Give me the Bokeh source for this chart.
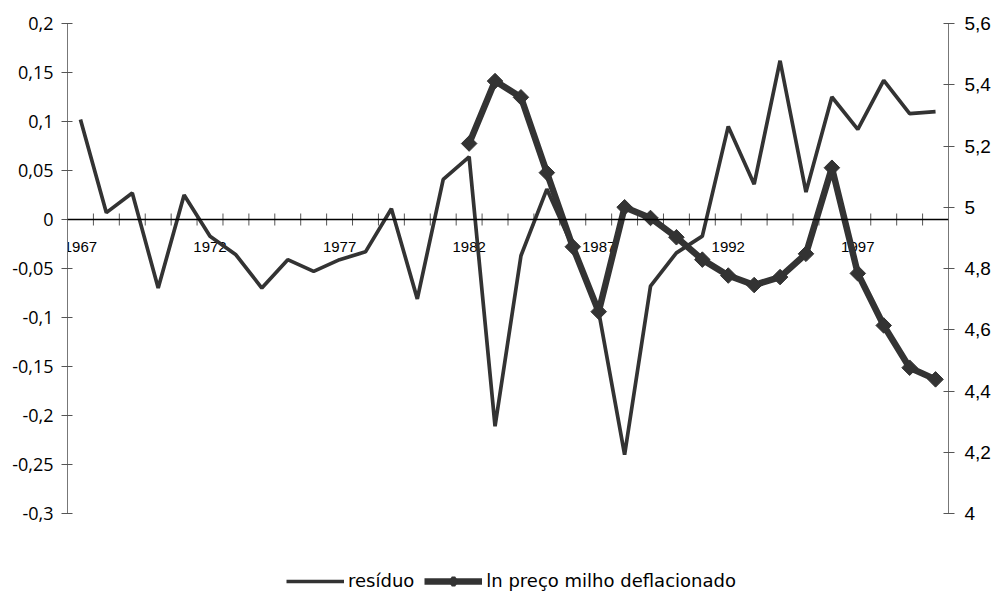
import numpy as np
from bokeh.plotting import figure
from bokeh.models import Range1d, LinearAxis, FixedTicker, Span, Legend, LegendItem
from bokeh.core.properties import value
from bokeh.embed import file_html
from bokeh.resources import INLINE

# ---- data ----
years = list(range(1967, 2001))
residuo = [0.102, 0.007, 0.027, -0.070, 0.025, -0.017, -0.036, -0.070, -0.041, -0.053,
           -0.041, -0.033, 0.011, -0.081, 0.041, 0.064, -0.211, -0.037, 0.031, -0.028,
           -0.094, -0.240, -0.068, -0.034, -0.017, 0.095, 0.036, 0.162, 0.028, 0.125,
           0.092, 0.142, 0.108, 0.110]

preco_years = list(range(1982, 2001))
ln_preco = [5.208, 5.412, 5.359, 5.113, 4.871, 4.659, 5.000, 4.965, 4.902, 4.829,
            4.777, 4.746, 4.772, 4.848, 5.129, 4.784, 4.614, 4.476, 4.438]

left_ticks = [-0.3, -0.25, -0.2, -0.15, -0.1, -0.05, 0, 0.05, 0.1, 0.15, 0.2]
left_labels = ["-0,3", "-0,25", "-0,2", "-0,15", "-0,1", "-0,05", "0", "0,05", "0,1", "0,15", "0,2"]
right_ticks = [4, 4.2, 4.4, 4.6, 4.8, 5, 5.2, 5.4, 5.6]
right_labels = ["4", "4,2", "4,4", "4,6", "4,8", "5", "5,2", "5,4", "5,6"]
x_label_years = [1967, 1972, 1977, 1982, 1987, 1992, 1997]

LINE = "#333333"
AXIS = "#777777"
HUMAN = "Open Sans"

# layout (pixels): the axes occupy AXIS_PX of the frame height, the legend sits in the
# extra LEGEND_PX strip at the bottom of the frame
AXIS_PX = 490
LEGEND_PX = 78
l_lo, l_hi = left_ticks[0], left_ticks[-1]
r_lo, r_hi = right_ticks[0], right_ticks[-1]
l_ext = l_lo - (l_hi - l_lo) * LEGEND_PX / AXIS_PX
r_ext = r_lo - (r_hi - r_lo) * LEGEND_PX / AXIS_PX

p = figure(width=997, height=23 + AXIS_PX + LEGEND_PX,
           x_range=Range1d(years[0] - 0.5, years[-1] + 0.5),
           y_range=Range1d(l_ext, l_hi),
           x_axis_location=None, y_axis_location="left",
           output_backend="svg", toolbar_location=None,
           min_border_left=67, min_border_right=49, min_border_top=23, min_border_bottom=0)
p.grid.visible = False
p.outline_line_color = None
p.background_fill_color = "white"

ly = p.yaxis[0]
ly.ticker = FixedTicker(ticks=left_ticks)
ly.major_label_overrides = dict(zip(left_ticks, left_labels))
ly.bounds = (l_lo, l_hi)

p.extra_y_ranges = {"right": Range1d(r_ext, r_hi)}
ry = LinearAxis(y_range_name="right", ticker=FixedTicker(ticks=right_ticks),
                major_label_overrides=dict(zip(right_ticks, right_labels)),
                bounds=(r_lo, r_hi))
p.add_layout(ry, "right")

for ax, font, size, standoff in ((ly, HUMAN, "18px", 8), (ry, "Liberation Sans", "19px", 10)):
    ax.axis_line_color = AXIS
    ax.axis_line_width = 1
    ax.major_tick_line_color = "#555555"
    ax.major_tick_in = 5
    ax.major_tick_out = 6
    ax.minor_tick_line_color = None
    ax.major_label_text_font = font
    ax.major_label_text_font_size = size
    ax.major_label_text_color = "black"
    ax.major_label_standoff = standoff

# zero line acting as the category axis
p.add_layout(Span(location=0, dimension="width", line_color="black", line_width=1.3))
bounds = [y - 0.5 for y in years] + [years[-1] + 0.5]
p.scatter(bounds, [0] * len(bounds), marker="dash", angle=np.pi / 2, size=12,
          line_color="#555555", line_width=1)
p.text(x=x_label_years, y=[0] * len(x_label_years), text=[str(y) for y in x_label_years],
       text_align="center", text_baseline="middle", y_offset=27,
       text_font=value("Liberation Sans"), text_font_size="15px", text_color="black")

r1 = p.line(years, residuo, line_color=LINE, line_width=3.7)
r2 = p.line(preco_years, ln_preco, y_range_name="right", line_color=LINE, line_width=6.5)
r3 = p.scatter(preco_years, ln_preco, y_range_name="right", marker="square", angle=np.pi / 4,
               size=11, fill_color=LINE, line_color=LINE)
# legend-only diamond (same data, hidden on the plot)
r4 = p.scatter(preco_years, ln_preco, y_range_name="right", marker="diamond",
               size=17, fill_color=LINE, line_color=LINE, line_width=4, visible=False)

legend = Legend(items=[LegendItem(label="resíduo", renderers=[r1]),
                       LegendItem(label="ln preço milho deflacionado", renderers=[r2, r4])],
                location=(219, 0), orientation="horizontal",
                border_line_color=None, background_fill_alpha=0,
                padding=0, margin=0, spacing=10, glyph_width=58, glyph_height=20,
                label_standoff=4, label_text_font="DejaVu Sans", label_text_font_size="18px",
                label_text_color="black")
p.add_layout(legend)

open("out.html", "w").write(file_html(p, INLINE))
